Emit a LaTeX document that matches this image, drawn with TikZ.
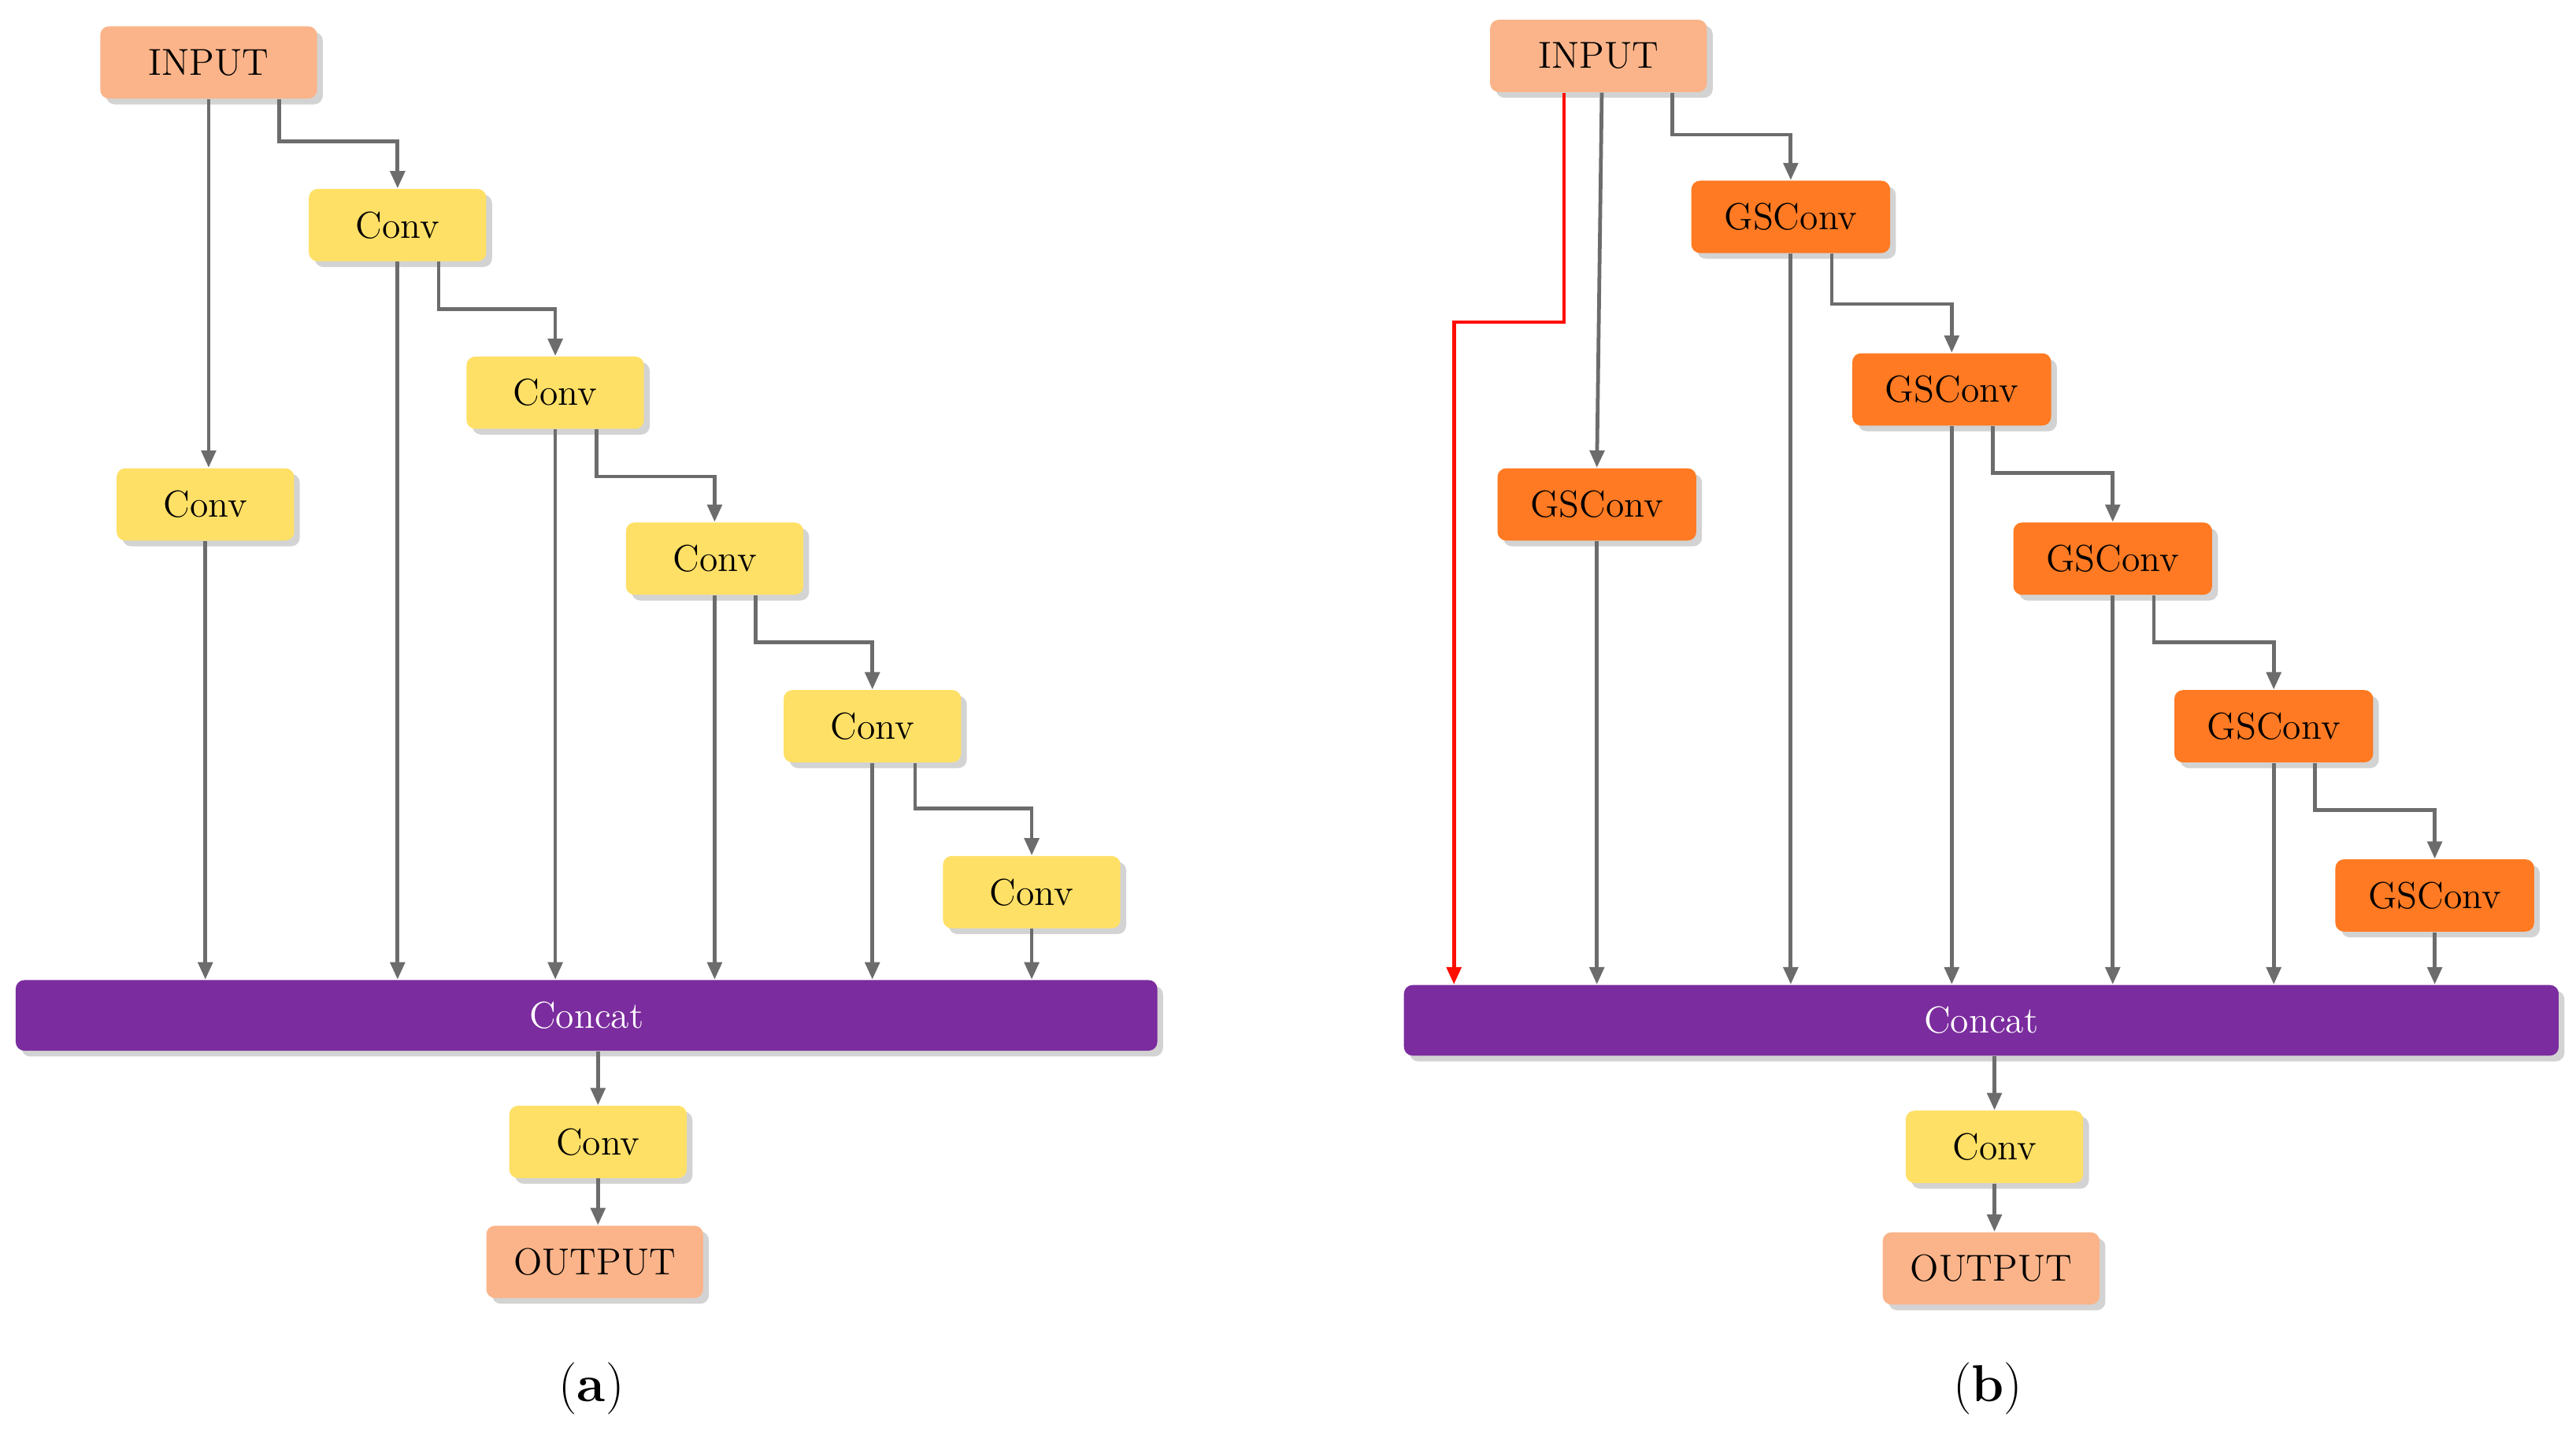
\documentclass[tikz,border=0pt]{standalone}
\usetikzlibrary{shadows,arrows.meta}
\begin{document}
\begin{tikzpicture}[x=0.02cm,y=-0.02cm,
  box/.style={rounded corners=3pt,inner sep=0pt,minimum height=0.88cm,font=\fontsize{13}{15}\selectfont,drop shadow={shadow xshift=2pt,shadow yshift=-2pt,opacity=0.35}},
  io/.style={box,fill=inp,minimum width=2.64cm},
  cv/.style={box,fill=yel,minimum width=2.16cm},
  gs/.style={box,fill=gso,minimum width=2.42cm},
  cc/.style={box,fill=pur,text=white,minimum height=0.86cm},
  ar/.style={draw=gray!85!black,line width=1.3pt,-{Triangle[length=6pt,width=5pt]}},
  red/.style={draw=red!90!orange,line width=1.3pt,-{Triangle[length=6pt,width=5pt]}}]
\definecolor{inp}{HTML}{FBB48A}
\definecolor{yel}{HTML}{FFE066}
\definecolor{gso}{HTML}{FF7A22}
\definecolor{pur}{HTML}{7B2C9E}
\useasboundingbox (0,0) rectangle (1568,873);
% left
\node[io] (inA) at (127,38) {INPUT};
\node[cv] (a1) at (125,307) {Conv};
\node[cv] (a2) at (242,137) {Conv};
\node[cv] (a3) at (338,239) {Conv};
\node[cv] (a4) at (435,340) {Conv};
\node[cv] (a5) at (531,442) {Conv};
\node[cv] (a6) at (628,543) {Conv};
\node[cc,minimum width=13.9cm] (ccA) at (357,618) {Concat};
\node[cv] (aC) at (364,695) {Conv};
\node[io] (outA) at (362,768) {OUTPUT};
\node[font=\fontsize{18}{20}\selectfont] (la) at (360,845) {(\textbf{a})};
\draw[ar] (inA.south -| 127,0) -- (a1.north -| 127,0);
\draw[ar] (inA.south -| 170,0) |- (242,86) -- (a2.north);
\draw[ar] (a2.south -| 267,0) |- (338,188) -- (a3.north);
\draw[ar] (a3.south -| 363,0) |- (435,290) -- (a4.north);
\draw[ar] (a4.south -| 460,0) |- (531,391) -- (a5.north);
\draw[ar] (a5.south -| 557,0) |- (628,492) -- (a6.north);
\foreach \n in {a1,a2,a3,a4,a5,a6} \draw[ar] (\n.south) -- (\n.south |- ccA.north);
\draw[ar] (ccA.south -| aC) -- (aC.north);
\draw[ar] (aC.south) -- (aC.south |- outA.north);
% right
\node[io] (inB) at (973,34) {INPUT};
\node[gs] (b1) at (972,307) {GSConv};
\node[gs] (b2) at (1090,132) {GSConv};
\node[gs] (b3) at (1188,237) {GSConv};
\node[gs] (b4) at (1286,340) {GSConv};
\node[gs] (b5) at (1384,442) {GSConv};
\node[gs] (b6) at (1482,545) {GSConv};
\node[cc,minimum width=14.06cm] (ccB) at (1206,621) {Concat};
\node[cv] (bC) at (1214,698) {Conv};
\node[io] (outB) at (1212,772) {OUTPUT};
\node[font=\fontsize{18}{20}\selectfont] (lb) at (1210,845) {(\textbf{b})};
\draw[red] (inB.south -| 952,0) |- (885,196) -- (ccB.north -| 885,0);
\draw[ar] (inB.south -| 975,0) -- (b1.north -| 972,0);
\draw[ar] (inB.south -| 1018,0) |- (1090,82) -- (b2.north);
\draw[ar] (b2.south -| 1115,0) |- (1188,185) -- (b3.north);
\draw[ar] (b3.south -| 1213,0) |- (1286,288) -- (b4.north);
\draw[ar] (b4.south -| 1311,0) |- (1384,391) -- (b5.north);
\draw[ar] (b5.south -| 1409,0) |- (1482,493) -- (b6.north);
\foreach \n in {b1,b2,b3,b4,b5,b6} \draw[ar] (\n.south) -- (\n.south |- ccB.north);
\draw[ar] (ccB.south -| bC) -- (bC.north);
\draw[ar] (bC.south) -- (bC.south |- outB.north);
\end{tikzpicture}
\end{document}
